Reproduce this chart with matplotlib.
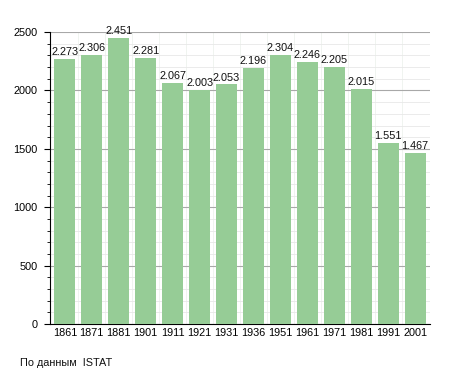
import matplotlib
matplotlib.use("Agg")
import matplotlib.pyplot as plt
from matplotlib.ticker import MultipleLocator

years = ["1861", "1871", "1881", "1901", "1911", "1921", "1931",
         "1936", "1951", "1961", "1971", "1981", "1991", "2001"]
population = [2273, 2306, 2451, 2281, 2067, 2003, 2053,
              2196, 2304, 2246, 2205, 2015, 1551, 1467]
labels = ["2.273", "2.306", "2.451", "2.281", "2.067", "2.003", "2.053",
          "2.196", "2.304", "2.246", "2.205", "2.015", "1.551", "1.467"]

fig = plt.figure(figsize=(4.55, 3.73), dpi=100)
ax = fig.add_axes([0.110, 0.131, 0.835, 0.783])

x = range(len(years))
ax.bar(x, population, width=0.78, color="#96cc96", zorder=3)
for i, (v, s) in enumerate(zip(population, labels)):
    ax.text(i, v + 15, s, ha="center", va="bottom", fontsize=7.8,
            family="Liberation Sans", color="#111111", zorder=4)

# faint vertical separators between bars
for i in range(len(years) - 1):
    ax.axvline(i + 0.5, color="#eef3ee", linewidth=0.6, zorder=1)

ax.set_xlim(-0.55, len(years) - 0.45)
ax.set_ylim(0, 2500)
ax.yaxis.set_major_locator(MultipleLocator(500))
ax.yaxis.set_minor_locator(MultipleLocator(100))
ax.grid(which="major", axis="y", color="#a8a8a8", linewidth=0.8, zorder=0)
ax.grid(which="minor", axis="y", color="#e8e8e8", linewidth=0.6, zorder=0)

ax.set_xticks(list(x))
ax.set_xticklabels(years)
for lab in ax.get_xticklabels() + ax.get_yticklabels():
    lab.set_family("Liberation Sans")
    lab.set_fontsize(7.8)
ax.tick_params(axis="x", length=0, pad=3)
ax.tick_params(axis="y", which="major", length=4, pad=5)
ax.tick_params(axis="y", which="minor", length=2)

for side in ["top", "right"]:
    ax.spines[side].set_visible(False)
ax.spines["left"].set_linewidth(0.8)
ax.spines["bottom"].set_linewidth(0.8)

fig.text(0.044, 0.018, "По данным  ISTAT", fontsize=7.8,
         family="Liberation Sans", color="#111111")

fig.savefig("out.png", dpi=100)
